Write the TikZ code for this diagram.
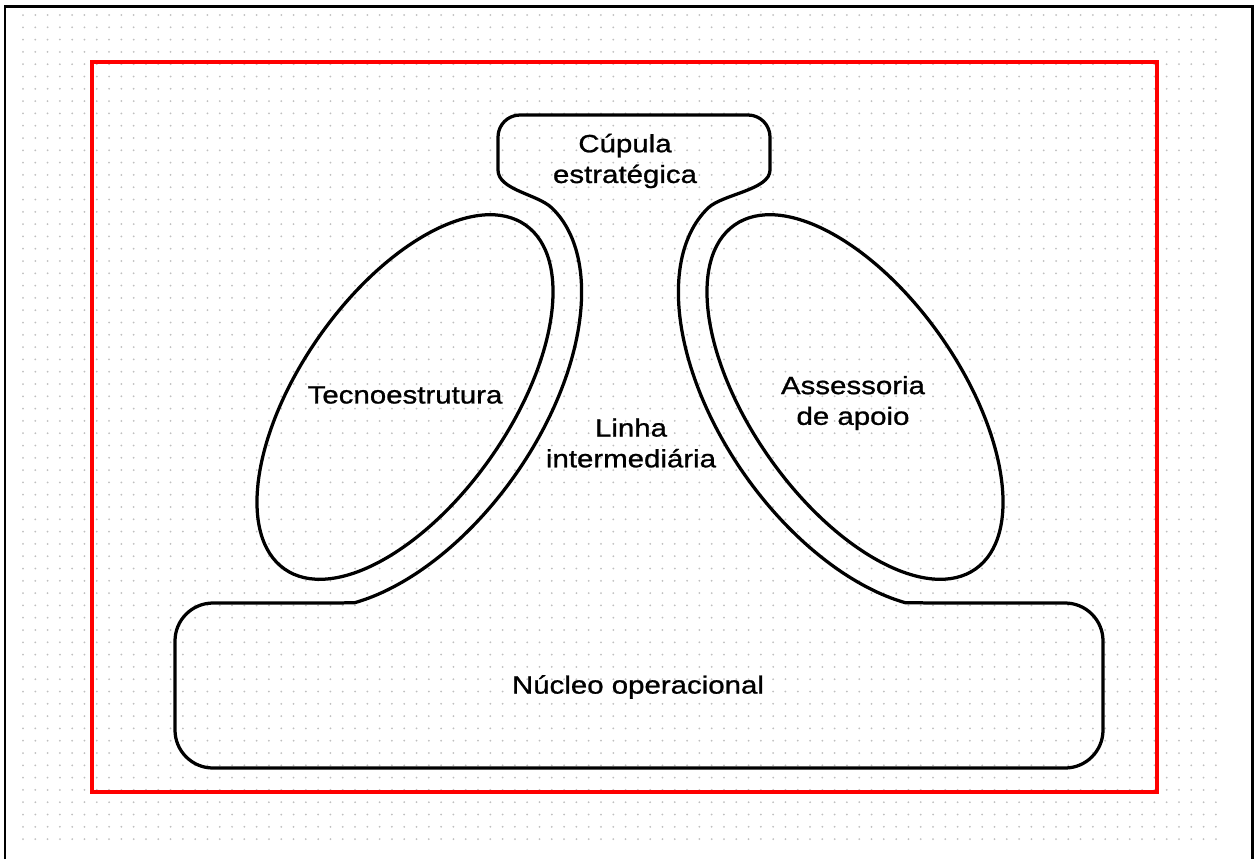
\documentclass[tikz,border=0pt]{standalone}
\usepackage{fontspec}
\newfontfamily\labelfont[FakeStretch=1.18,FakeBold=1]{Liberation Sans}
\begin{document}
\begin{tikzpicture}[x=0.02cm,y=-0.02cm,
  outline/.style={line width=0.065cm, black, line join=round},
  lbl/.style={font=\labelfont\fontsize{14.2}{17.5}\selectfont, align=center, inner sep=0pt},
  gridrow/.style={gray!50, line width=0.04cm, line cap=round, dash pattern=on 0pt off 0.246cm},
]
\useasboundingbox (0,0) rectangle (1254,859);
\fill[white] (0,0) rectangle (1254,859);

% dotted background
\foreach \r in {0,...,67}
  \draw[gridrow] (23,{15+12.3*\r}) -- (1222,{15+12.3*\r});

% page frame (open at the bottom)
\draw[line width=0.06cm] (5,859) -- (5,6) -- (1252,6) -- (1252,859);

% red frame
\draw[red, line width=0.08cm] (92,62) rectangle (1157,792);

% staff units
\draw[outline, rotate around={55:(405,397)}] (405,397) ellipse [x radius=210, y radius=105];
\draw[outline, rotate around={-55:(855,397)}] (855,397) ellipse [x radius=210, y radius=105];

% strategic apex, middle line and operating core as one outline
\draw[outline]
  (498,170) -- (498,137) arc[start angle=180, end angle=270, radius=22]
  -- (748,115) arc[start angle=270, end angle=360, radius=22]
  -- (770,170) .. controls (770,190) and (722.6,194.1) .. (708.2,207.9)
  -- plot[domain=5:145.5, variable=\t, samples=90]
     ({855-137.7*cos(\t)-110.6*sin(\t)}, {397-196.6*cos(\t)+77.4*sin(\t)})
  -- (1065,603) arc[start angle=270, end angle=360, radius=38]
  -- (1103,730) arc[start angle=0, end angle=90, radius=38]
  -- (213,768) arc[start angle=90, end angle=180, radius=38]
  -- (175,641) arc[start angle=180, end angle=270, radius=38]
  -- plot[domain=145.5:5, variable=\t, samples=90]
     ({405+137.7*cos(\t)+110.6*sin(\t)}, {397-196.6*cos(\t)+77.4*sin(\t)})
  .. controls (537.4,194.1) and (498,190) .. (498,170) -- cycle;

% labels
\node[lbl] (cupula) at (625,161) {Cúpula\\estratégica};
\node[lbl] (tecno)  at (405,395) {Tecnoestrutura};
\node[lbl] (linha)  at (631,443) {Linha\\intermediária};
\node[lbl] (assess) at (853,403) {Assessoria\\de apoio};
\node[lbl] (nucleo) at (638,687) {Núcleo operacional};
\end{tikzpicture}
\end{document}
